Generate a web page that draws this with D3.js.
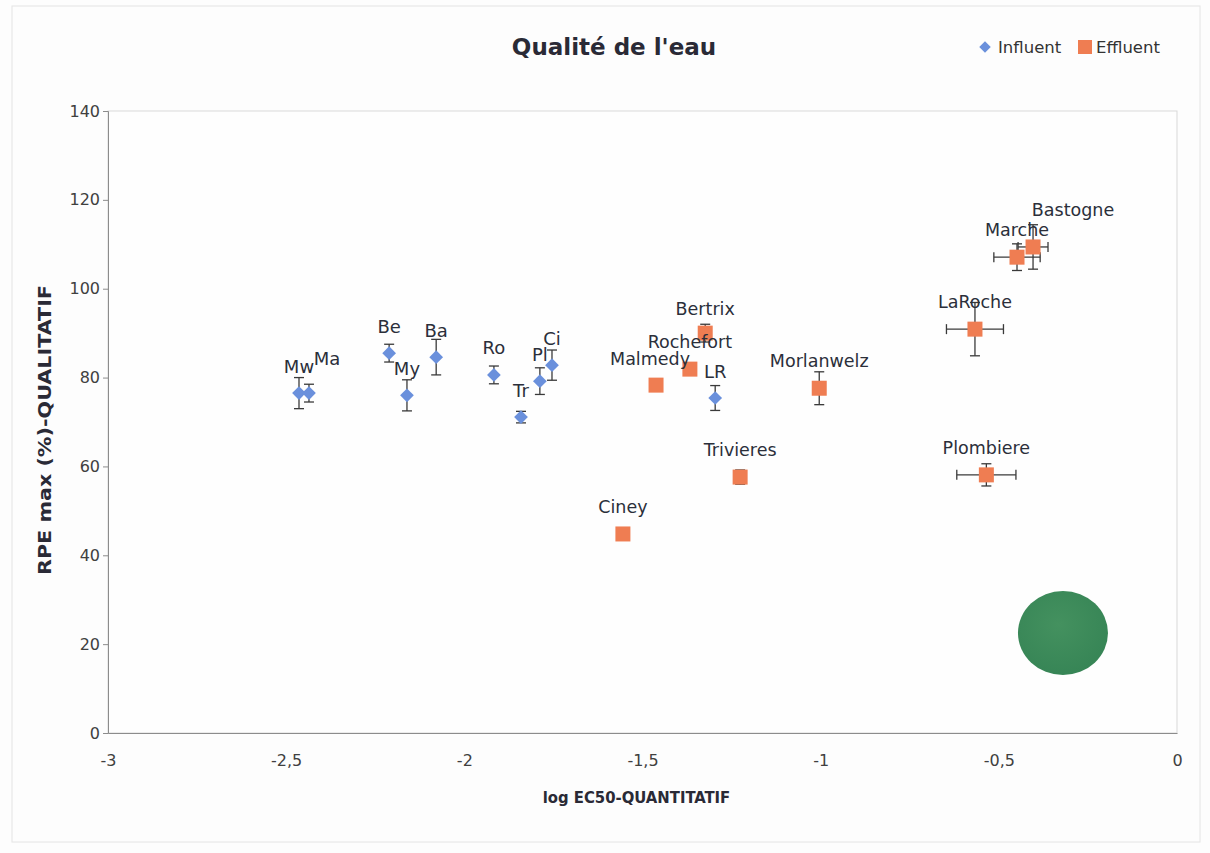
<!DOCTYPE html>
<html>
<head>
<meta charset="utf-8">
<script src="https://cdn.jsdelivr.net/npm/d3@7"></script>
<style>
  body { margin: 0; background: #fdfdfd; }
  svg { font-family: "DejaVu Sans", Verdana, sans-serif; }
</style>
</head>
<body>
<div id="chart"></div>
<script>
// influent sites (diamonds)
const influentNames = ['Mw', 'Ma', 'Be', 'My', 'Ba', 'Ro', 'Tr', 'Pl', 'Ci', 'LR'];
const influentX = [-2.464, -2.436, -2.211, -2.161, -2.079, -1.917, -1.841, -1.788, -1.754, -1.296];
const influentY = [76.5, 76.5, 85.5, 76.0, 84.6, 80.6, 71.1, 79.2, 82.8, 75.4];
const influentYErr = [3.5, 2.0, 2.0, 3.5, 4.0, 2.0, 1.3, 3.0, 3.4, 2.8];

// effluent sites (squares)
const effluentNames = ['Malmedy', 'Rochefort', 'Bertrix', 'Morlanwelz', 'Trivieres', 'Ciney', 'LaRoche', 'Plombiere', 'Marche', 'Bastogne'];
const effluentX = [-1.462, -1.367, -1.324, -1.004, -1.226, -1.555, -0.567, -0.535, -0.449, -0.404];
const effluentY = [78.3, 81.9, 90.0, 77.6, 57.6, 44.8, 90.9, 58.1, 107.1, 109.4];
const effluentXErr = [0, 0, 0, 0, 0, 0, 0.08, 0.083, 0.065, 0.042];
const effluentYErr = [0, 0, 2.0, 3.7, 1.6, 0, 6.0, 2.5, 3.0, 5.0];

// target zone (green disc)
const targetX = -0.32;
const targetY = 22.5;

const xTicks = [-3, -2.5, -2, -1.5, -1, -0.5, 0];
const yTicks = [0, 20, 40, 60, 80, 100, 120, 140];

// label nudges where Excel moved them off the default spot
const labelShift = {Ma: [18, -35], Malmedy: [-6, -26], Bastogne: [40, -37], Bertrix: [0, -24]};

let width = 1210,
    height = 853,
    margin = {left: 108, top: 111, right: 33, bottom: 120},
    plotWidth = width - margin.left - margin.right,
    plotHeight = height - margin.top - margin.bottom;

let svg = d3.select('#chart').append('svg')
    .attr('width', width)
    .attr('height', height);

svg.append('rect')
    .attr('x', 12).attr('y', 6)
    .attr('width', 1188).attr('height', 836)
    .attr('fill', '#fdfdfd')
    .attr('stroke', '#e4e4e4');

let g = svg.append('g')
    .attr('transform', `translate(${margin.left}, ${margin.top})`);

let xScale = d3.scaleLinear().domain([-3, 0]).range([0, plotWidth]);
let yScale = d3.scaleLinear().domain([0, 140]).range([plotHeight, 0]);

// plot frame
g.append('rect')
    .attr('width', plotWidth)
    .attr('height', plotHeight)
    .attr('fill', '#fefefe')
    .attr('stroke', '#d9d9d9');

// axes
let yAxis = d3.axisLeft(yScale).tickValues(yTicks).tickSize(5).tickPadding(3);
let xAxis = d3.axisBottom(xScale).tickValues(xTicks).tickSize(0).tickPadding(22)
    .tickFormat(d => String(d).replace('.', ','));

g.append('g').call(yAxis)
    .call(a => a.select('.domain').attr('stroke', '#8c8c8c'))
    .call(a => a.selectAll('.tick line').attr('stroke', '#8c8c8c'))
    .call(a => a.selectAll('text').attr('fill', '#404040').style('font-size', '16px')
        .style('font-family', '"DejaVu Sans", sans-serif'));

g.append('g').attr('transform', `translate(0, ${plotHeight})`).call(xAxis)
    .call(a => a.select('.domain').attr('stroke', '#8c8c8c'))
    .call(a => a.selectAll('text').attr('fill', '#404040').style('font-size', '16px')
        .style('font-family', '"DejaVu Sans", sans-serif'));

// target zone
let grad = svg.append('defs').append('radialGradient')
    .attr('id', 'greenGrad').attr('cx', '45%').attr('cy', '40%').attr('r', '60%');
grad.append('stop').attr('offset', '0%').attr('stop-color', '#44915f');
grad.append('stop').attr('offset', '100%').attr('stop-color', '#378556');

g.append('ellipse')
    .attr('cx', xScale(targetX))
    .attr('cy', yScale(targetY))
    .attr('rx', 45)
    .attr('ry', 42)
    .attr('fill', 'url(#greenGrad)');

let influent = influentNames.map((n, i) => ({name: n, x: influentX[i], y: influentY[i], ex: 0, ey: influentYErr[i], kind: 'in'}));
let effluent = effluentNames.map((n, i) => ({name: n, x: effluentX[i], y: effluentY[i], ex: effluentXErr[i], ey: effluentYErr[i], kind: 'out'}));
let all = influent.concat(effluent);

function drawErrors(sel) {
    sel.each(function (d) {
        let e = d3.select(this);
        let cx = xScale(d.x), cy = yScale(d.y);
        if (d.ey > 0) {
            let y0 = yScale(d.y + d.ey), y1 = yScale(d.y - d.ey);
            e.append('line').attr('x1', cx).attr('x2', cx).attr('y1', y0).attr('y2', y1);
            e.append('line').attr('x1', cx - 5).attr('x2', cx + 5).attr('y1', y0).attr('y2', y0);
            e.append('line').attr('x1', cx - 5).attr('x2', cx + 5).attr('y1', y1).attr('y2', y1);
        }
        if (d.ex > 0) {
            let x0 = xScale(d.x - d.ex), x1 = xScale(d.x + d.ex);
            e.append('line').attr('x1', x0).attr('x2', x1).attr('y1', cy).attr('y2', cy);
            e.append('line').attr('x1', x0).attr('x2', x0).attr('y1', cy - 5).attr('y2', cy + 5);
            e.append('line').attr('x1', x1).attr('x2', x1).attr('y1', cy - 5).attr('y2', cy + 5);
        }
    });
}

let errG = g.append('g').attr('stroke', '#3a3a3a').attr('stroke-width', 1.3);
errG.selectAll('.err')
    .data(all)
    .join('g')
    .attr('class', 'err')
    .call(drawErrors);

let diamond = d3.symbol().type(d3.symbolDiamond2).size(120);

g.selectAll('.influent')
    .data(influent)
    .join('path')
    .attr('class', 'influent')
    .attr('d', diamond)
    .attr('transform', d => `translate(${xScale(d.x)}, ${yScale(d.y)})`)
    .attr('fill', '#6a90dc');

g.selectAll('.effluent')
    .data(effluent)
    .join('rect')
    .attr('class', 'effluent')
    .attr('x', d => xScale(d.x) - 7.5)
    .attr('y', d => yScale(d.y) - 7.5)
    .attr('width', 15)
    .attr('height', 15)
    .attr('fill', '#ef7d52');

// data labels
g.selectAll('.lbl')
    .data(all)
    .join('text')
    .attr('class', 'lbl')
    .attr('x', d => xScale(d.x) + (labelShift[d.name] ? labelShift[d.name][0] : 0))
    .attr('y', d => yScale(d.y) + (labelShift[d.name] ? labelShift[d.name][1] : -27))
    .attr('text-anchor', 'middle')
    .attr('dominant-baseline', 'central')
    .attr('fill', '#2b2f3a')
    .style('font-size', d => d.kind === 'in' ? '18px' : '17.5px')
    .text(d => d.name);

// title
svg.append('text')
    .attr('x', 614).attr('y', 47)
    .attr('text-anchor', 'middle')
    .attr('dominant-baseline', 'central')
    .attr('fill', '#2a2a36')
    .style('font-size', '23px')
    .style('font-weight', 'bold')
    .text("Qualité de l'eau");

// axis titles
svg.append('text')
    .attr('x', margin.left + xScale(-1.5) - 6).attr('y', 797)
    .attr('text-anchor', 'middle')
    .attr('dominant-baseline', 'central')
    .attr('fill', '#2a2a36')
    .style('font-size', '16.5px')
    .style('font-weight', 'bold')
    .style('font-family', '"DejaVu Sans Condensed", "DejaVu Sans", sans-serif')
    .text('log EC50-QUANTITATIF');

svg.append('text')
    .attr('transform', 'translate(44, 430) rotate(-90)')
    .attr('text-anchor', 'middle')
    .attr('dominant-baseline', 'central')
    .attr('fill', '#2a2a36')
    .attr('textLength', 290)
    .attr('lengthAdjust', 'spacingAndGlyphs')
    .style('font-size', '18px')
    .style('font-weight', 'bold')
    .text('RPE max (%)-QUALITATIF');

// legend
let legend = svg.append('g').attr('transform', 'translate(985, 47)')
    .style('font-size', '16.5px').attr('fill', '#333');
legend.append('path')
    .attr('d', d3.symbol().type(d3.symbolDiamond2).size(85))
    .attr('fill', '#6a90dc');
legend.append('text').attr('x', 13).attr('dominant-baseline', 'central').text('Influent');
legend.append('rect').attr('x', 93).attr('y', -7).attr('width', 14).attr('height', 14).attr('fill', '#ef7d52');
legend.append('text').attr('x', 111).attr('dominant-baseline', 'central').text('Effluent');
</script>
</body>
</html>
